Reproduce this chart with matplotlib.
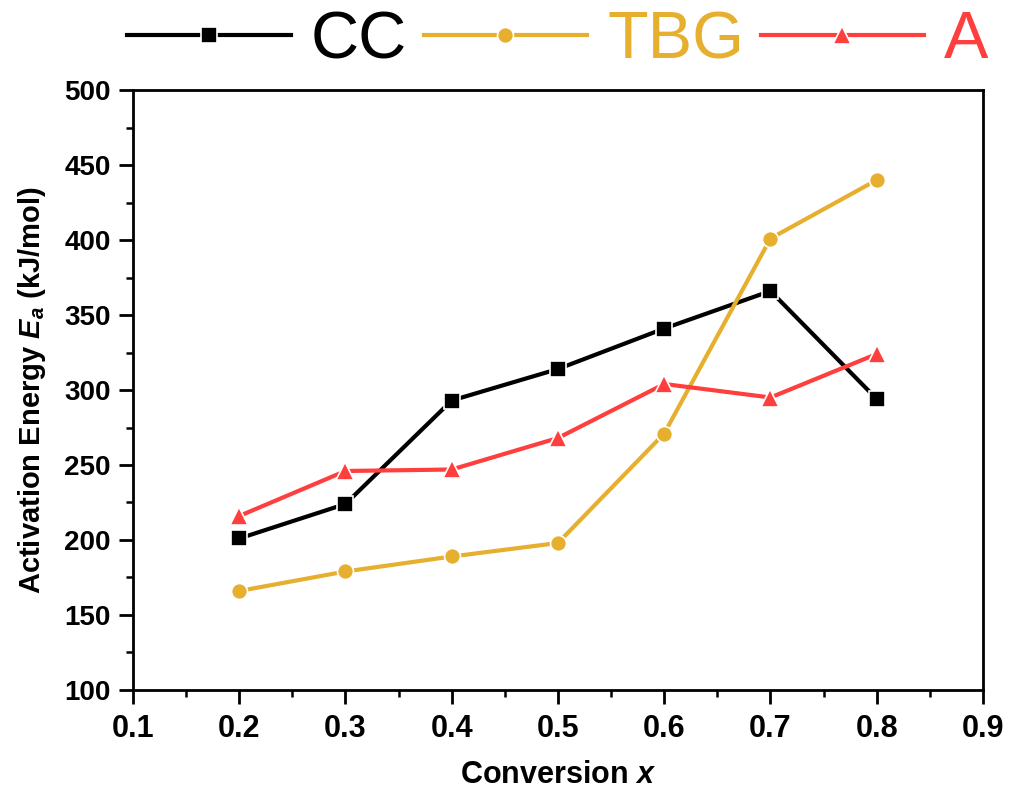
import matplotlib
matplotlib.use("Agg")
import matplotlib.pyplot as plt
from matplotlib.ticker import MultipleLocator

plt.rcParams['font.family'] = ['Liberation Sans', 'DejaVu Sans']
plt.rcParams['mathtext.fontset'] = 'custom'
plt.rcParams['mathtext.it'] = 'Liberation Sans:bold:italic'
plt.rcParams['mathtext.rm'] = 'Liberation Sans:bold'
plt.rcParams['mathtext.bf'] = 'Liberation Sans:bold'

conversion = [0.2, 0.3, 0.4, 0.5, 0.6, 0.7, 0.8]
cc = [201, 224, 293, 314, 341, 366, 294]
tbg = [166, 179, 189, 198, 271, 401, 440]
a_vals = [216, 246, 247, 268, 304, 295, 324]
x_ticks = [0.1, 0.2, 0.3, 0.4, 0.5, 0.6, 0.7, 0.8, 0.9]

series = [
    ("CC", cc, "black", "s", 11),
    ("TBG", tbg, "#E6AF2E", "o", 11.5),
    ("A", a_vals, "#FF3E3E", "^", 12.5),
]

fig = plt.figure(figsize=(10.09, 7.91), dpi=100)
ax = fig.add_axes([0.1318, 0.1277, 0.8424, 0.7585])

for name, vals, col, mk, ms in series:
    ax.plot(conversion, vals, color=col, lw=3.0, marker=mk, ms=ms,
            mec='white', mew=1.2, label=name)

ax.set_xlim(0.1, 0.9)
ax.set_ylim(100, 500)
ax.set_xticks(x_ticks)
ax.set_xticklabels([f"{v:.1f}" for v in x_ticks])
ax.xaxis.set_minor_locator(MultipleLocator(0.05))
ax.yaxis.set_major_locator(MultipleLocator(50))
ax.yaxis.set_minor_locator(MultipleLocator(25))
ax.tick_params(which='major', direction='out', length=10, width=2, pad=6)
ax.tick_params(which='minor', direction='out', length=5, width=1.8)
ax.tick_params(axis='x', which='major', labelsize=22, pad=7)
ax.tick_params(axis='y', which='major', labelsize=20, pad=6)
for lab in ax.get_xticklabels() + ax.get_yticklabels():
    lab.set_fontweight('bold')
for sp in ax.spines.values():
    sp.set_linewidth(2)

ax.set_xlabel("Conversion $x$", fontsize=22, fontweight='bold', labelpad=12)
ax.set_ylabel("Activation Energy $E_a$ (kJ/mol)", fontsize=21, fontweight='bold', labelpad=12)

leg = ax.legend(loc='lower center', bbox_to_anchor=(0.5, 0.985), ncol=3, frameon=False,
                fontsize=48, handlelength=2.45, handletextpad=0.3, columnspacing=0.25,
                borderaxespad=0.0, markerscale=1.0)
for txt, (_, _, col, _, _) in zip(leg.get_texts(), series):
    txt.set_color(col)

fig.savefig("out.png", dpi=100)
